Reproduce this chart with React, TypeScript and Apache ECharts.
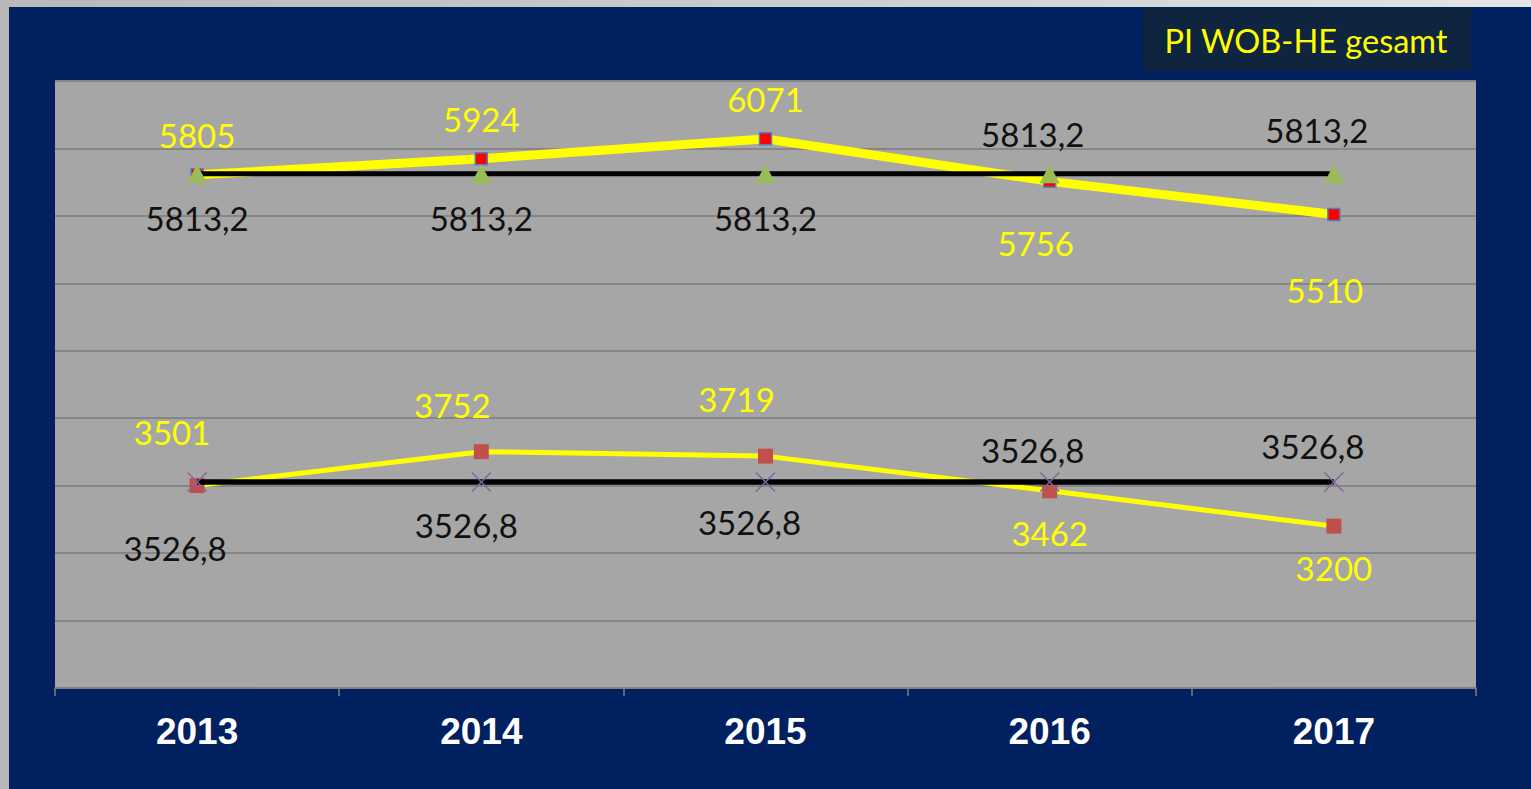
import React, { useEffect, useRef } from "react";
import * as echarts from "echarts";

const years = ["2013", "2014", "2015", "2016", "2017"];
const topActual = [5805, 5924, 6071, 5756, 5510];
const topAverage = [5813.2, 5813.2, 5813.2, 5813.2, 5813.2];
const bottomActual = [3501, 3752, 3719, 3462, 3200];
const bottomAverage = [3526.8, 3526.8, 3526.8, 3526.8, 3526.8];

const yMin = 2000;
const yMax = 6500;
const yStep = 500;
const titleText = "PI WOB-HE gesamt";

// label offsets [dx, dy] from each point (placement only)
const topActualOff = [[0, -40], [0, -40], [0, -40], [-14, 62], [-9, 75]];
const topAverageOff = [[0, 44], [0, 44], [0, 44], [-17, -40], [-17, -44]];
const bottomActualOff = [[-25, -54], [-29, -47], [-29, -57], [0, 42], [0, 42]];
const bottomAverageOff = [[-22, 66], [-15, 43], [-16, 40], [-17, -32], [-21, -36]];

const fmt = (v: number) => String(v).replace(".", ",");

const xPath = "path://M0,1 L1,0 L10,9 L19,0 L20,1 L11,10 L20,19 L19,20 L10,11 L1,20 L0,19 L9,10 Z";

function withLabels(values: number[], offs: number[][], color: string) {
  return values.map((v, i) => ({
    value: v,
    label: {
      show: true,
      position: "inside",
      offset: offs[i],
      color,
      fontFamily: "Lato",
      fontSize: 33,
      align: "center",
      verticalAlign: "middle",
      formatter: () => fmt(v),
    },
  }));
}

export default function App() {
  const ref = useRef<HTMLDivElement>(null);
  useEffect(() => {
    if (!ref.current) return;
    const chart = echarts.init(ref.current, undefined, { renderer: "svg" });
    chart.setOption({
      animation: false,
      backgroundColor: "#002060",
      grid: {
        left: 46,
        right: 55,
        top: 74,
        bottom: 101,
        show: true,
        backgroundColor: "#a6a6a6",
        borderWidth: 0,
      },
      graphic: [
        {
          type: "rect",
          shape: { x: 1134, y: 1, width: 328, height: 63 },
          style: { fill: "#0f243e" },
        },
        {
          type: "text",
          x: 1297,
          y: 33,
          style: {
            text: titleText,
            fill: "#ffff00",
            font: "32.5px Lato",
            align: "center",
            verticalAlign: "middle",
          },
        },
      ],
      xAxis: {
        type: "category",
        data: years,
        boundaryGap: true,
        axisLine: { show: true, lineStyle: { color: "#7f7f7f", width: 1.5 } },
        axisTick: { show: true, length: 8, lineStyle: { color: "#7f7f7f", width: 1.5 } },
        axisLabel: {
          color: "#ffffff",
          fontFamily: "Liberation Sans",
          fontWeight: "bold",
          fontSize: 37,
          margin: 25,
        },
        splitLine: { show: false },
      },
      yAxis: {
        type: "value",
        min: yMin,
        max: yMax,
        interval: yStep,
        axisLabel: { show: false },
        axisLine: { show: false },
        axisTick: { show: false },
        splitLine: { show: true, lineStyle: { color: "#868686", width: 2 } },
      },
      series: [
        {
          type: "line",
          data: withLabels(topActual, topActualOff, "#ffff00"),
          lineStyle: { color: "#ffff00", width: 9 },
          symbol: "rect",
          symbolSize: 12,
          itemStyle: { color: "#ff0000", borderColor: "#4f81bd", borderWidth: 1.5 },
          z: 2,
        },
        {
          type: "line",
          data: withLabels(topAverage, topAverageOff, "#111111"),
          lineStyle: { color: "#000000", width: 5 },
          symbol: "triangle",
          symbolSize: [20, 19],
          itemStyle: { color: "#9bbb59" },
          z: 3,
        },
        {
          type: "line",
          data: withLabels(bottomActual, bottomActualOff, "#ffff00"),
          lineStyle: { color: "#ffff00", width: 5 },
          symbol: "rect",
          symbolSize: 15,
          itemStyle: { color: "#c0504d" },
          z: 2,
        },
        {
          type: "line",
          data: withLabels(bottomAverage, bottomAverageOff, "#111111"),
          lineStyle: { color: "#000000", width: 5.5 },
          symbol: xPath,
          symbolSize: 20,
          itemStyle: { color: "#8064a2" },
          z: 3,
        },
      ],
    });
    return () => chart.dispose();
  }, []);

  return (
    <div
      style={{
        position: "fixed",
        left: 0,
        top: 0,
        width: 1531,
        height: 789,
        background: "linear-gradient(90deg, #b8b8b8 0%, #d0d0d0 60%, #e4e4e4 100%)",
      }}
    >
      <div
        ref={ref}
        style={{ position: "absolute", left: 9, top: 7, width: 1522, height: 782 }}
      />
    </div>
  );
}
